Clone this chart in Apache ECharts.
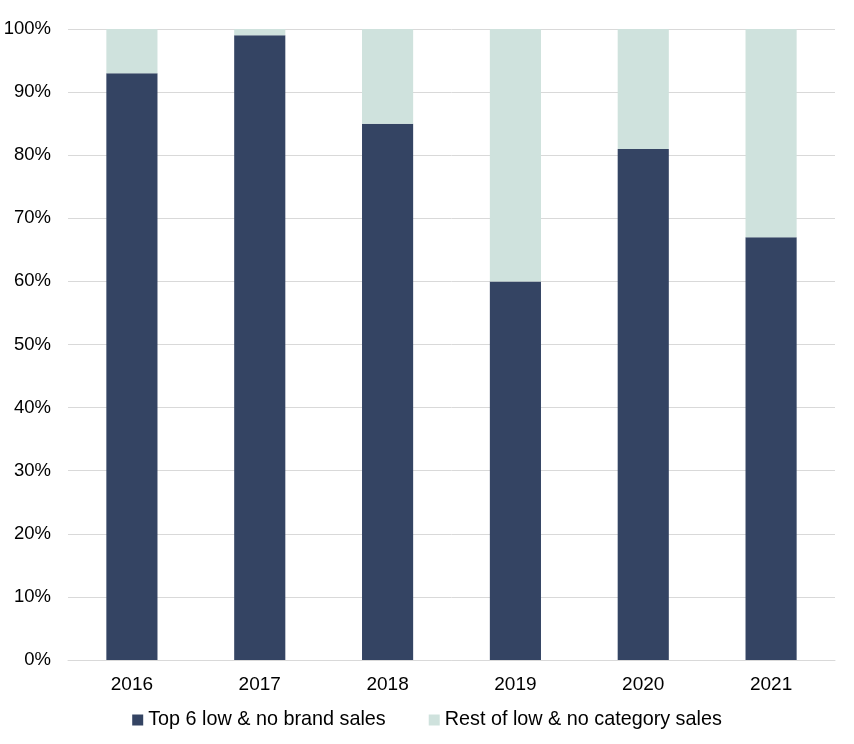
<!DOCTYPE html>
<html><head><meta charset="utf-8">
<script src="https://cdn.jsdelivr.net/npm/echarts@6/dist/echarts.min.js"></script>
<style>html,body{margin:0;padding:0;background:#fff}#c{width:854px;height:744px}</style>
</head><body><div id="c"></div>
<script>
const categories = ['2016','2017','2018','2019','2020','2021'];
const topSix = [93, 99, 85, 60, 81, 67];
const rest = [7, 1, 15, 40, 19, 33];
const yTicks = [0,10,20,30,40,50,60,70,80,90,100];

const chart = echarts.init(document.getElementById('c'));
chart.setOption({
  animation: false,
  textStyle: {fontFamily: 'Liberation Sans, Arial, sans-serif'},
  grid: {left: 68, right: 19, top: 29, bottom: 84, containLabel: false},
  legend: {
    bottom: 9, left: 'center', itemWidth: 11, itemHeight: 11, itemGap: 43,
    icon: 'rect',
    textStyle: {fontSize: 19.8, color: '#000', fontFamily: 'Liberation Sans, Arial, sans-serif'},
    data: ['Top 6 low & no brand sales', 'Rest of low & no category sales']
  },
  xAxis: {
    type: 'category', data: categories,
    axisLine: {show: true, lineStyle: {color: '#d9d9d9'}},
    axisTick: {show: false},
    axisLabel: {fontSize: 19, color: '#000', margin: 15}
  },
  yAxis: {
    type: 'value', min: 0, max: 100, interval: 10,
    axisLine: {show: false}, axisTick: {show: false},
    splitLine: {lineStyle: {color: '#d9d9d9'}},
    axisLabel: {fontSize: 18.5, color: '#000', margin: 17, formatter: v => v + '%'}
  },
  series: [
    {name: 'Top 6 low & no brand sales', type: 'bar', stack: 's', data: topSix, barWidth: '40%', itemStyle: {color: '#344463'}},
    {name: 'Rest of low & no category sales', type: 'bar', stack: 's', data: rest, barWidth: '40%', itemStyle: {color: '#cfe2dd'}}
  ]
});
</script></body></html>
